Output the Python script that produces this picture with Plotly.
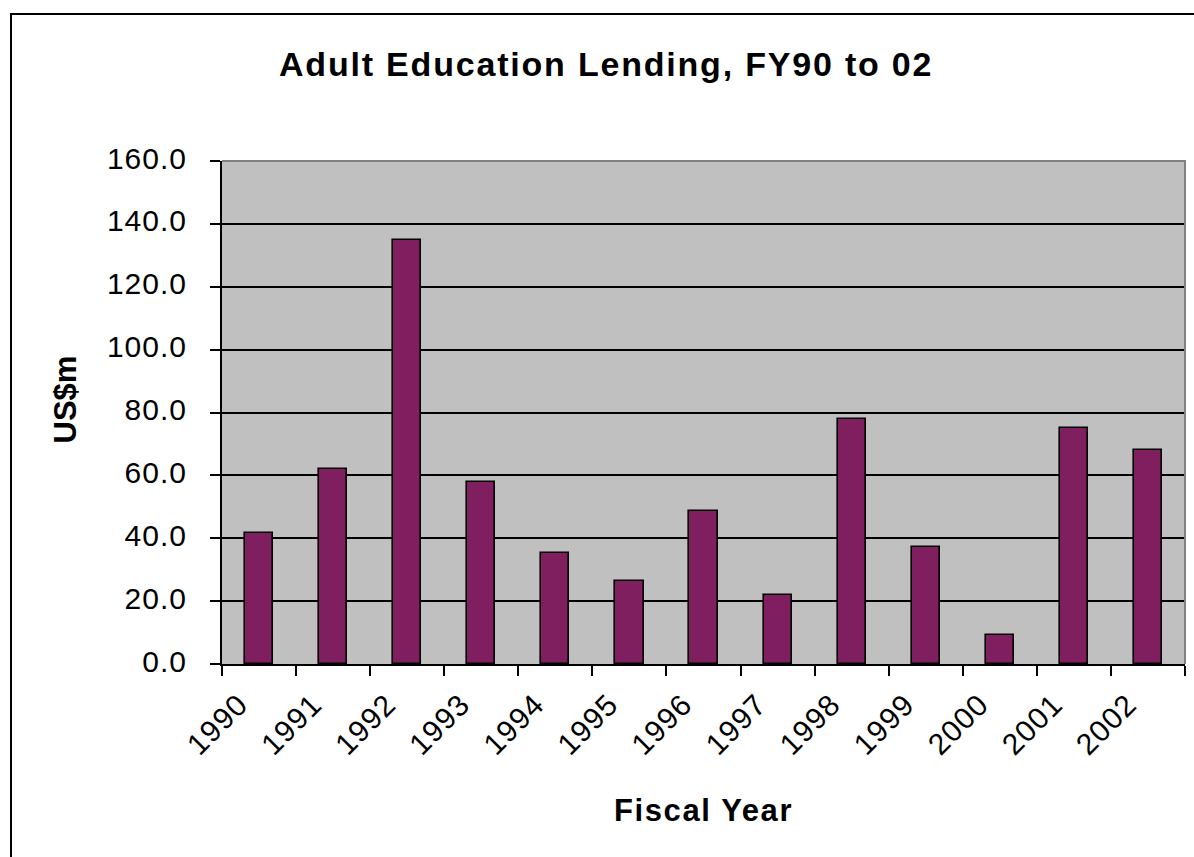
import plotly.graph_objects as go

# Adult education lending by fiscal year (US$ millions)
years = ["1990", "1991", "1992", "1993", "1994", "1995", "1996",
         "1997", "1998", "1999", "2000", "2001", "2002"]
lending = [41.6, 62.0, 135.0, 58.0, 35.2, 26.3, 48.6,
           21.8, 77.8, 37.1, 9.1, 75.2, 68.2]

y_ticks = [0, 20, 40, 60, 80, 100, 120, 140, 160]

W, H = 1194, 857
ML, MR, MT, MB = 222, 9, 161, 193
PW, PH = W - ML - MR, H - MT - MB


def px_x(px):
    """Convert a page pixel x to paper coordinates."""
    return (px - ML) / PW


def px_y(py):
    """Convert a page pixel y (from the top) to paper coordinates."""
    return (H - MB - py) / PH


def spaced(text, px):
    """Wrap text in a span with extra letter spacing."""
    return f'<span style="letter-spacing:{px}px">{text}</span>'


FONT = "Liberation Sans, Arial, sans-serif"

fig = go.Figure(
    go.Bar(
        x=years,
        y=lending,
        width=0.38,
        marker=dict(color="#7F1F5F", line=dict(color="black", width=1.6)),
    )
)

fig.update_layout(
    width=W,
    height=H,
    margin=dict(l=ML, r=MR, t=MT, b=MB, pad=0),
    paper_bgcolor="white",
    plot_bgcolor="#C0C0C0",
    showlegend=False,
    font=dict(family=FONT, color="black"),
    bargap=0,
)

fig.update_xaxes(
    type="category",
    tickson="boundaries",
    tickvals=years,
    ticktext=[spaced(y, 1) for y in years],
    ticks="outside",
    ticklen=10,
    tickwidth=2,
    tickcolor="black",
    tickangle=-45,
    tickfont=dict(size=30, family=FONT, color="black"),
    ticklabelshift=-20,
    ticklabelstandoff=9,
    showgrid=False,
    showline=True,
    linecolor="black",
    linewidth=2,
    zeroline=False,
)

fig.update_yaxes(
    range=[0, 160],
    tickvals=y_ticks,
    ticktext=[spaced(f"{v:.1f}", 1) for v in y_ticks],
    ticks="outside",
    ticklen=10,
    tickwidth=2,
    tickcolor="black",
    tickfont=dict(size=30, family=FONT, color="black"),
    ticklabelstandoff=17,
    ticklabelshift=-3,
    showgrid=True,
    gridcolor="black",
    gridwidth=1.5,
    showline=True,
    linecolor="black",
    linewidth=2,
    zeroline=False,
)

# Chart frame and plot-area border (top and right edges in grey)
fig.add_shape(
    type="rect", xref="paper", yref="paper",
    x0=px_x(11), x1=px_x(W + 10), y0=px_y(H + 10), y1=px_y(14),
    line=dict(color="black", width=2), fillcolor="rgba(0,0,0,0)",
    layer="above",
)
fig.add_shape(
    type="path", xref="paper", yref="paper",
    path="M 0,1 L 1,1 L 1,0",
    line=dict(color="#808080", width=2),
    layer="above",
)

# Title and axis titles
fig.add_annotation(
    text="<b>" + spaced("Adult Education Lending, FY90 to 02", 1.8) + "</b>",
    xref="paper", yref="paper", x=px_x(606), y=px_y(64),
    xanchor="center", yanchor="middle", showarrow=False,
    font=dict(size=34, family=FONT, color="black"),
)
fig.add_annotation(
    text="<b>US$m</b>",
    xref="paper", yref="paper", x=px_x(64.5), y=px_y(400),
    xanchor="center", yanchor="middle", textangle=-90, showarrow=False,
    font=dict(size=31, family=FONT, color="black"),
)
fig.add_annotation(
    text="<b>" + spaced("Fiscal Year", 1.6) + "</b>",
    xref="paper", yref="paper", x=px_x(703), y=px_y(810),
    xanchor="center", yanchor="middle", showarrow=False,
    font=dict(size=31, family=FONT, color="black"),
)

fig.write_html("out.html")
